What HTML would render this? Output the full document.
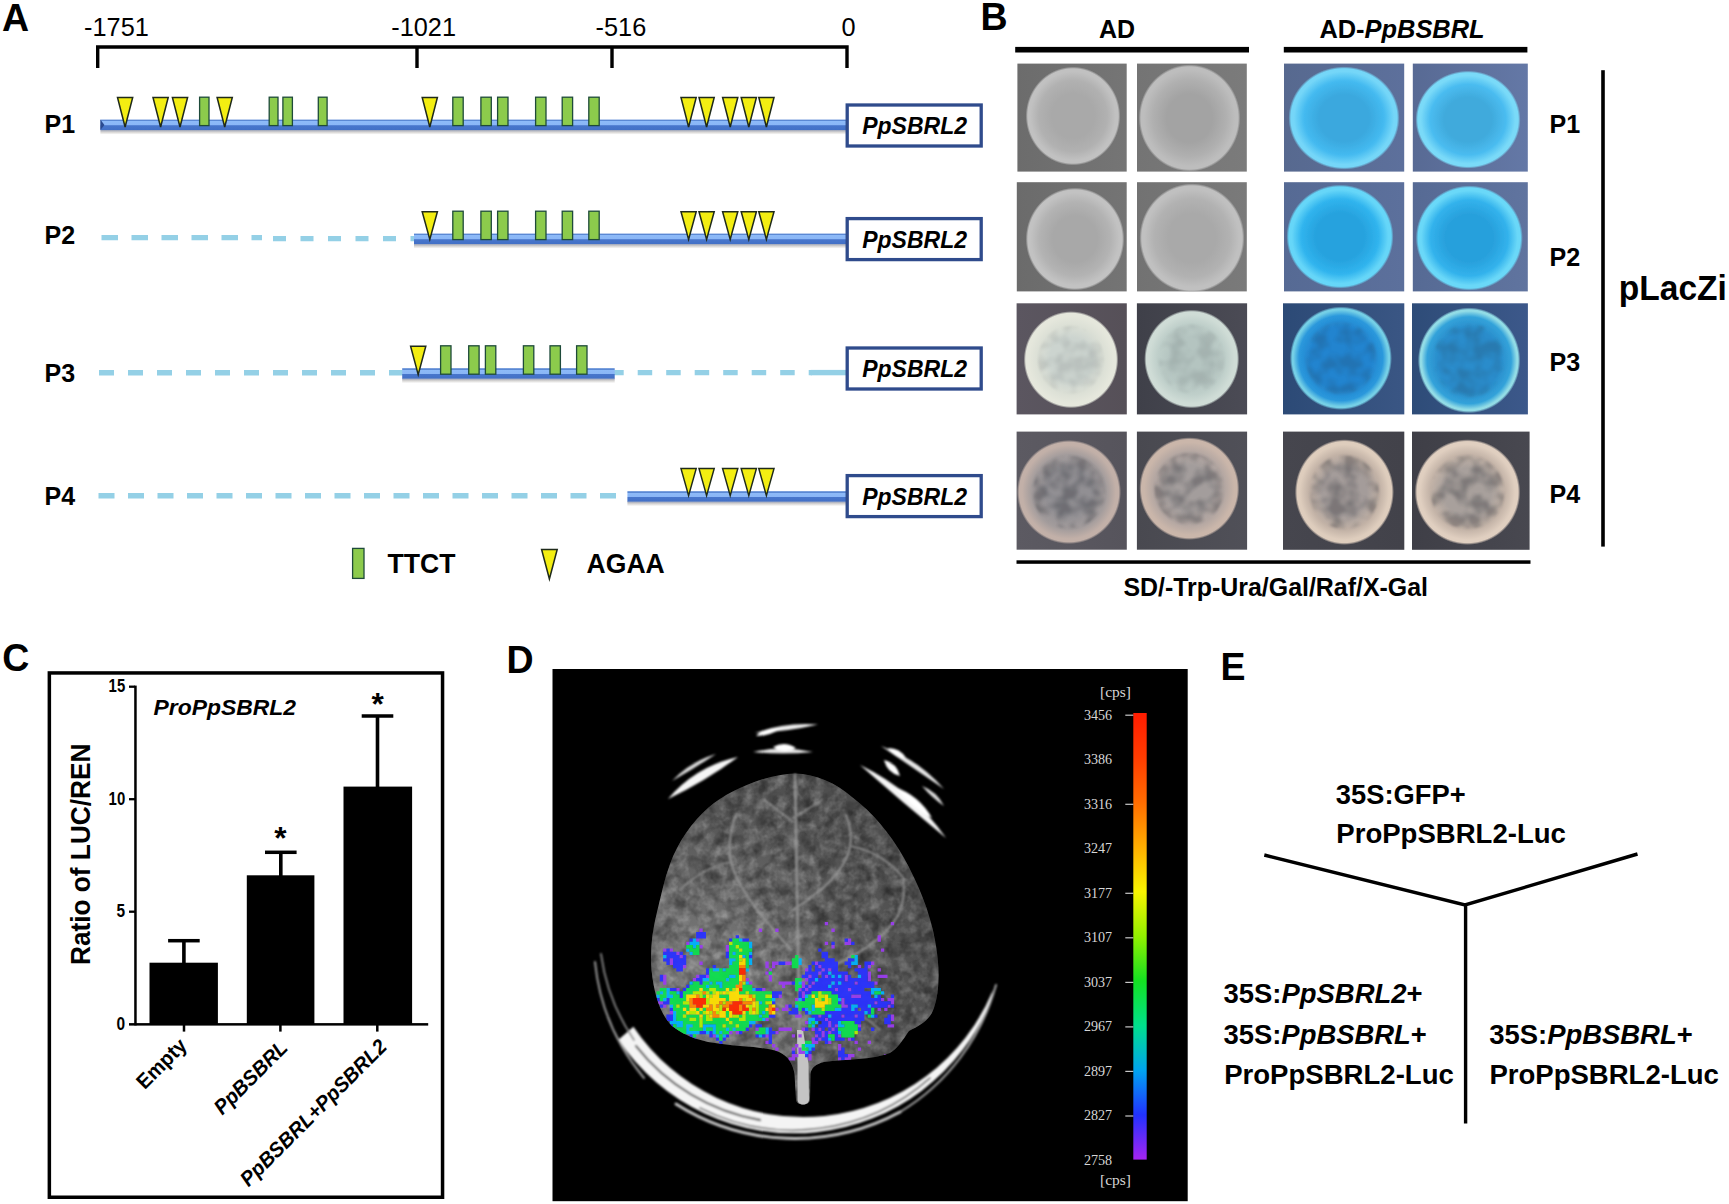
<!DOCTYPE html>
<html><head><meta charset="utf-8"><title>Figure</title>
<style>
html,body{margin:0;padding:0;background:#fff}
svg{display:block}
text{font-family:"Liberation Sans",sans-serif;fill:#000}
.b{font-weight:bold}
.bi{font-weight:bold;font-style:italic}
.se{font-family:"Liberation Serif",serif}
</style></head><body>
<svg width="1729" height="1204" viewBox="0 0 1729 1204">
<defs>
<linearGradient id="bar" x1="0" y1="0" x2="0" y2="1">
<stop offset="0" stop-color="#5a88d4"/><stop offset="0.13" stop-color="#5a88d4"/>
<stop offset="0.16" stop-color="#8dbaf8"/><stop offset="0.52" stop-color="#8ab6f6"/>
<stop offset="0.58" stop-color="#4876cc"/><stop offset="1" stop-color="#4270c6"/>
</linearGradient>
<linearGradient id="shd" x1="0" y1="0" x2="0" y2="1">
<stop offset="0" stop-color="#8f99b4"/><stop offset="0.5" stop-color="#d6d4d2"/><stop offset="1" stop-color="#ffffff"/>
</linearGradient>
</defs>
<rect width="1729" height="1204" fill="#fff"/>
<g id="pA">
<text x="2.0" y="30.6" font-size="39.00" textLength="27.1" lengthAdjust="spacingAndGlyphs" class="b">A</text>
<path d="M97.7 68 V47 H847 V68 M417 47 V68 M612 47 V68" fill="none" stroke="#000" stroke-width="3.4"/>
<text x="84.1" y="35.6" font-size="26.31" textLength="64.7" lengthAdjust="spacingAndGlyphs">-1751</text>
<text x="391.3" y="35.6" font-size="26.31" textLength="64.7" lengthAdjust="spacingAndGlyphs">-1021</text>
<text x="595.6" y="35.6" font-size="26.31" textLength="50.6" lengthAdjust="spacingAndGlyphs">-516</text>
<text x="841.5" y="35.6" font-size="26.31" textLength="14.1" lengthAdjust="spacingAndGlyphs">0</text>
<text x="44.6" y="132.5" font-size="26.21" textLength="30.6" lengthAdjust="spacingAndGlyphs" class="b">P1</text>
<rect x="100.4" y="129.6" width="745.6" height="5" fill="url(#shd)"/><rect x="100.4" y="119.6" width="745.6" height="10.4" fill="url(#bar)"/>
<path d="M100.4 119.6 v10.4 l4 -5z" fill="#2a4a90"/>
<path d="M117.5 97.4 h15.2 L125.1 127.0 Z" fill="#f3ee12" stroke="#1f2a1a" stroke-width="1.5" stroke-linejoin="miter"/>
<path d="M153.0 97.4 h15.2 L160.6 127.0 Z" fill="#f3ee12" stroke="#1f2a1a" stroke-width="1.5" stroke-linejoin="miter"/>
<path d="M172.4 97.4 h15.2 L180 127.0 Z" fill="#f3ee12" stroke="#1f2a1a" stroke-width="1.5" stroke-linejoin="miter"/>
<path d="M217.1 97.4 h15.2 L224.7 127.0 Z" fill="#f3ee12" stroke="#1f2a1a" stroke-width="1.5" stroke-linejoin="miter"/>
<path d="M422.2 97.4 h15.2 L429.8 127.0 Z" fill="#f3ee12" stroke="#1f2a1a" stroke-width="1.5" stroke-linejoin="miter"/>
<path d="M681.0 97.4 h15.2 L688.6 127.0 Z" fill="#f3ee12" stroke="#1f2a1a" stroke-width="1.5" stroke-linejoin="miter"/>
<path d="M699.0 97.4 h15.2 L706.6 127.0 Z" fill="#f3ee12" stroke="#1f2a1a" stroke-width="1.5" stroke-linejoin="miter"/>
<path d="M722.6 97.4 h15.2 L730.2 127.0 Z" fill="#f3ee12" stroke="#1f2a1a" stroke-width="1.5" stroke-linejoin="miter"/>
<path d="M741.1999999999999 97.4 h15.2 L748.8 127.0 Z" fill="#f3ee12" stroke="#1f2a1a" stroke-width="1.5" stroke-linejoin="miter"/>
<path d="M758.8 97.4 h15.2 L766.4 127.0 Z" fill="#f3ee12" stroke="#1f2a1a" stroke-width="1.5" stroke-linejoin="miter"/>
<rect x="199.6" y="97.19999999999999" width="9.4" height="28.4" fill="#8ccb4c" stroke="#1e4a3a" stroke-width="1.3"/>
<rect x="269.20000000000005" y="97.19999999999999" width="8.8" height="28.4" fill="#8ccb4c" stroke="#1e4a3a" stroke-width="1.3"/>
<rect x="282.90000000000003" y="97.19999999999999" width="9.5" height="28.4" fill="#8ccb4c" stroke="#1e4a3a" stroke-width="1.3"/>
<rect x="318.3" y="97.19999999999999" width="8.8" height="28.4" fill="#8ccb4c" stroke="#1e4a3a" stroke-width="1.3"/>
<rect x="452.8" y="97.19999999999999" width="10.4" height="28.4" fill="#8ccb4c" stroke="#1e4a3a" stroke-width="1.3"/>
<rect x="480.90000000000003" y="97.19999999999999" width="10.4" height="28.4" fill="#8ccb4c" stroke="#1e4a3a" stroke-width="1.3"/>
<rect x="497.6" y="97.19999999999999" width="10.4" height="28.4" fill="#8ccb4c" stroke="#1e4a3a" stroke-width="1.3"/>
<rect x="535.6" y="97.19999999999999" width="10.4" height="28.4" fill="#8ccb4c" stroke="#1e4a3a" stroke-width="1.3"/>
<rect x="562.2" y="97.19999999999999" width="10.4" height="28.4" fill="#8ccb4c" stroke="#1e4a3a" stroke-width="1.3"/>
<rect x="588.8000000000001" y="97.19999999999999" width="10.4" height="28.4" fill="#8ccb4c" stroke="#1e4a3a" stroke-width="1.3"/>
<rect x="847.2" y="105.0" width="134" height="41" fill="#fff" stroke="#2f4b8c" stroke-width="3.3"/><text x="862.2" y="134.2" font-size="23.50" textLength="104.8" lengthAdjust="spacingAndGlyphs" class="bi">PpSBRL2</text>
<text x="44.6" y="244.0" font-size="26.21" textLength="30.6" lengthAdjust="spacingAndGlyphs" class="b">P2</text>
<line x1="101.5" y1="237.6" x2="262" y2="237.6" stroke="#94d0e6" stroke-width="5.4" stroke-dasharray="16.5 13.5" stroke-dashoffset="0"/>
<line x1="273" y1="238.6" x2="418" y2="238.6" stroke="#94d0e6" stroke-width="5.4" stroke-dasharray="13 14.5" stroke-dashoffset="0"/>
<rect x="414" y="243.6" width="432" height="5" fill="url(#shd)"/><rect x="414" y="233.6" width="432" height="10.4" fill="url(#bar)"/>
<path d="M422.2 211.8 h15.2 L429.8 239.4 Z" fill="#f3ee12" stroke="#1f2a1a" stroke-width="1.5" stroke-linejoin="miter"/>
<path d="M681.0 211.8 h15.2 L688.6 239.4 Z" fill="#f3ee12" stroke="#1f2a1a" stroke-width="1.5" stroke-linejoin="miter"/>
<path d="M699.0 211.8 h15.2 L706.6 239.4 Z" fill="#f3ee12" stroke="#1f2a1a" stroke-width="1.5" stroke-linejoin="miter"/>
<path d="M722.6 211.8 h15.2 L730.2 239.4 Z" fill="#f3ee12" stroke="#1f2a1a" stroke-width="1.5" stroke-linejoin="miter"/>
<path d="M741.1999999999999 211.8 h15.2 L748.8 239.4 Z" fill="#f3ee12" stroke="#1f2a1a" stroke-width="1.5" stroke-linejoin="miter"/>
<path d="M758.8 211.8 h15.2 L766.4 239.4 Z" fill="#f3ee12" stroke="#1f2a1a" stroke-width="1.5" stroke-linejoin="miter"/>
<rect x="452.8" y="211.2" width="10.4" height="28.4" fill="#8ccb4c" stroke="#1e4a3a" stroke-width="1.3"/>
<rect x="480.90000000000003" y="211.2" width="10.4" height="28.4" fill="#8ccb4c" stroke="#1e4a3a" stroke-width="1.3"/>
<rect x="497.6" y="211.2" width="10.4" height="28.4" fill="#8ccb4c" stroke="#1e4a3a" stroke-width="1.3"/>
<rect x="535.6" y="211.2" width="10.4" height="28.4" fill="#8ccb4c" stroke="#1e4a3a" stroke-width="1.3"/>
<rect x="562.2" y="211.2" width="10.4" height="28.4" fill="#8ccb4c" stroke="#1e4a3a" stroke-width="1.3"/>
<rect x="588.8000000000001" y="211.2" width="10.4" height="28.4" fill="#8ccb4c" stroke="#1e4a3a" stroke-width="1.3"/>
<rect x="847.2" y="218.6" width="134" height="41" fill="#fff" stroke="#2f4b8c" stroke-width="3.3"/><text x="862.2" y="247.8" font-size="23.50" textLength="104.8" lengthAdjust="spacingAndGlyphs" class="bi">PpSBRL2</text>
<text x="44.6" y="381.5" font-size="26.21" textLength="30.6" lengthAdjust="spacingAndGlyphs" class="b">P3</text>
<line x1="99" y1="372.8" x2="403" y2="372.8" stroke="#94d0e6" stroke-width="5.4" stroke-dasharray="15 14" stroke-dashoffset="0"/>
<line x1="614" y1="372.6" x2="812" y2="372.6" stroke="#94d0e6" stroke-width="5.4" stroke-dasharray="14.5 14" stroke-dashoffset="4.8"/>
<rect x="810.7" y="369.9" width="37" height="5.4" fill="#94d0e6"/>
<rect x="402.2" y="378.2" width="212.50000000000006" height="5" fill="url(#shd)"/><rect x="402.2" y="368.2" width="212.50000000000006" height="10.4" fill="url(#bar)"/>
<path d="M410.59999999999997 346.2 h15.2 L418.2 374.6 Z" fill="#f3ee12" stroke="#1f2a1a" stroke-width="1.5" stroke-linejoin="miter"/>
<rect x="440.6" y="345.8" width="10.4" height="28.4" fill="#8ccb4c" stroke="#1e4a3a" stroke-width="1.3"/>
<rect x="468.70000000000005" y="345.8" width="10.4" height="28.4" fill="#8ccb4c" stroke="#1e4a3a" stroke-width="1.3"/>
<rect x="485.40000000000003" y="345.8" width="10.4" height="28.4" fill="#8ccb4c" stroke="#1e4a3a" stroke-width="1.3"/>
<rect x="523.4" y="345.8" width="10.4" height="28.4" fill="#8ccb4c" stroke="#1e4a3a" stroke-width="1.3"/>
<rect x="550.0" y="345.8" width="10.4" height="28.4" fill="#8ccb4c" stroke="#1e4a3a" stroke-width="1.3"/>
<rect x="576.6" y="345.8" width="10.4" height="28.4" fill="#8ccb4c" stroke="#1e4a3a" stroke-width="1.3"/>
<rect x="847.2" y="348.0" width="134" height="41" fill="#fff" stroke="#2f4b8c" stroke-width="3.3"/><text x="862.2" y="377.2" font-size="23.50" textLength="104.8" lengthAdjust="spacingAndGlyphs" class="bi">PpSBRL2</text>
<text x="44.6" y="505.0" font-size="26.21" textLength="30.6" lengthAdjust="spacingAndGlyphs" class="b">P4</text>
<line x1="98.5" y1="495.8" x2="628" y2="495.8" stroke="#94d0e6" stroke-width="5.4" stroke-dasharray="16 13.5" stroke-dashoffset="0"/>
<rect x="627.4" y="501.2" width="218.60000000000002" height="5" fill="url(#shd)"/><rect x="627.4" y="491.2" width="218.60000000000002" height="10.4" fill="url(#bar)"/>
<path d="M681.0 468.59999999999997 h15.2 L688.6 495.59999999999997 Z" fill="#f3ee12" stroke="#1f2a1a" stroke-width="1.5" stroke-linejoin="miter"/>
<path d="M699.0 468.59999999999997 h15.2 L706.6 495.59999999999997 Z" fill="#f3ee12" stroke="#1f2a1a" stroke-width="1.5" stroke-linejoin="miter"/>
<path d="M722.6 468.59999999999997 h15.2 L730.2 495.59999999999997 Z" fill="#f3ee12" stroke="#1f2a1a" stroke-width="1.5" stroke-linejoin="miter"/>
<path d="M741.1999999999999 468.59999999999997 h15.2 L748.8 495.59999999999997 Z" fill="#f3ee12" stroke="#1f2a1a" stroke-width="1.5" stroke-linejoin="miter"/>
<path d="M758.8 468.59999999999997 h15.2 L766.4 495.59999999999997 Z" fill="#f3ee12" stroke="#1f2a1a" stroke-width="1.5" stroke-linejoin="miter"/>
<rect x="847.2" y="475.6" width="134" height="41" fill="#fff" stroke="#2f4b8c" stroke-width="3.3"/><text x="862.2" y="504.8" font-size="23.50" textLength="104.8" lengthAdjust="spacingAndGlyphs" class="bi">PpSBRL2</text>
<rect x="352.6" y="548.4" width="11.4" height="30" fill="#8ccb4c" stroke="#1e4a3a" stroke-width="1.3"/>
<text x="387.5" y="572.6" font-size="27.56" textLength="68.0" lengthAdjust="spacingAndGlyphs" class="b">TTCT</text>
<path d="M541.6 549.4 h15.6 L549.4 579 Z" fill="#f3ee12" stroke="#1f2a1a" stroke-width="1.5"/>
<text x="586.6" y="572.6" font-size="27.56" textLength="78.2" lengthAdjust="spacingAndGlyphs" class="b">AGAA</text>
</g>
<defs><linearGradient id="tb0"><stop offset="0" stop-color="#6c6c6c"/><stop offset="1" stop-color="#757575"/></linearGradient><radialGradient id="tc0"><stop offset="0" stop-color="#a9a9a9"/><stop offset="0.45" stop-color="#a9a9a9"/><stop offset="0.72" stop-color="#b1b1b1"/><stop offset="0.9" stop-color="#c1c1c1"/><stop offset="0.955" stop-color="#c1c1c1"/><stop offset="1" stop-color="#c1c1c1" stop-opacity="0"/></radialGradient><linearGradient id="tb1"><stop offset="0" stop-color="#747474"/><stop offset="1" stop-color="#7b7b7b"/></linearGradient><radialGradient id="tc1"><stop offset="0" stop-color="#a3a3a3"/><stop offset="0.45" stop-color="#a3a3a3"/><stop offset="0.72" stop-color="#b0b0b0"/><stop offset="0.9" stop-color="#bdbdbd"/><stop offset="0.955" stop-color="#bdbdbd"/><stop offset="1" stop-color="#bdbdbd" stop-opacity="0"/></radialGradient><linearGradient id="tb2"><stop offset="0" stop-color="#6b6b6b"/><stop offset="1" stop-color="#747474"/></linearGradient><radialGradient id="tc2"><stop offset="0" stop-color="#a8a8a8"/><stop offset="0.45" stop-color="#a8a8a8"/><stop offset="0.72" stop-color="#b3b3b3"/><stop offset="0.9" stop-color="#c2c2c2"/><stop offset="0.955" stop-color="#c2c2c2"/><stop offset="1" stop-color="#c2c2c2" stop-opacity="0"/></radialGradient><linearGradient id="tb3"><stop offset="0" stop-color="#727272"/><stop offset="1" stop-color="#7a7a7a"/></linearGradient><radialGradient id="tc3"><stop offset="0" stop-color="#a9a9a9"/><stop offset="0.45" stop-color="#a9a9a9"/><stop offset="0.72" stop-color="#b2b2b2"/><stop offset="0.9" stop-color="#c0c0c0"/><stop offset="0.955" stop-color="#c0c0c0"/><stop offset="1" stop-color="#c0c0c0" stop-opacity="0"/></radialGradient><linearGradient id="tb4"><stop offset="0" stop-color="#57698f"/><stop offset="1" stop-color="#5d709c"/></linearGradient><radialGradient id="tc4"><stop offset="0" stop-color="#3aa8de"/><stop offset="0.45" stop-color="#3aa8de"/><stop offset="0.72" stop-color="#44baf0"/><stop offset="0.9" stop-color="#74d6f8"/><stop offset="0.955" stop-color="#74d6f8"/><stop offset="1" stop-color="#74d6f8" stop-opacity="0"/></radialGradient><linearGradient id="tb5"><stop offset="0" stop-color="#586a94"/><stop offset="1" stop-color="#6478a6"/></linearGradient><radialGradient id="tc5"><stop offset="0" stop-color="#40aadc"/><stop offset="0.45" stop-color="#40aadc"/><stop offset="0.72" stop-color="#4abcf0"/><stop offset="0.9" stop-color="#7adaf8"/><stop offset="0.955" stop-color="#7adaf8"/><stop offset="1" stop-color="#7adaf8" stop-opacity="0"/></radialGradient><linearGradient id="tb6"><stop offset="0" stop-color="#566a94"/><stop offset="1" stop-color="#5c709c"/></linearGradient><radialGradient id="tc6"><stop offset="0" stop-color="#27a2de"/><stop offset="0.45" stop-color="#27a2de"/><stop offset="0.72" stop-color="#30b4ee"/><stop offset="0.9" stop-color="#66d6f8"/><stop offset="0.955" stop-color="#66d6f8"/><stop offset="1" stop-color="#66d6f8" stop-opacity="0"/></radialGradient><linearGradient id="tb7"><stop offset="0" stop-color="#566a94"/><stop offset="1" stop-color="#60749f"/></linearGradient><radialGradient id="tc7"><stop offset="0" stop-color="#28a0dc"/><stop offset="0.45" stop-color="#28a0dc"/><stop offset="0.72" stop-color="#32b2ec"/><stop offset="0.9" stop-color="#6ad8f8"/><stop offset="0.955" stop-color="#6ad8f8"/><stop offset="1" stop-color="#6ad8f8" stop-opacity="0"/></radialGradient><linearGradient id="tb8"><stop offset="0" stop-color="#5b5660"/><stop offset="1" stop-color="#565058"/></linearGradient><radialGradient id="tc8"><stop offset="0" stop-color="#ccd4cf"/><stop offset="0.45" stop-color="#ccd4cf"/><stop offset="0.72" stop-color="#dce0d6"/><stop offset="0.9" stop-color="#e5e7dc"/><stop offset="0.955" stop-color="#e5e7dc"/><stop offset="1" stop-color="#e5e7dc" stop-opacity="0"/></radialGradient><linearGradient id="tb9"><stop offset="0" stop-color="#3f4049"/><stop offset="1" stop-color="#4b4b55"/></linearGradient><radialGradient id="tc9"><stop offset="0" stop-color="#b4c4c0"/><stop offset="0.45" stop-color="#b4c4c0"/><stop offset="0.72" stop-color="#bfcfca"/><stop offset="0.9" stop-color="#cfdcd6"/><stop offset="0.955" stop-color="#cfdcd6"/><stop offset="1" stop-color="#cfdcd6" stop-opacity="0"/></radialGradient><linearGradient id="tb10"><stop offset="0" stop-color="#2c4a76"/><stop offset="1" stop-color="#3a5684"/></linearGradient><radialGradient id="tc10"><stop offset="0" stop-color="#2384cf"/><stop offset="0.6" stop-color="#2384cf"/><stop offset="0.82" stop-color="#2a98dc"/><stop offset="0.93" stop-color="#74cfe6"/><stop offset="0.955" stop-color="#74cfe6"/><stop offset="1" stop-color="#74cfe6" stop-opacity="0"/></radialGradient><linearGradient id="tb11"><stop offset="0" stop-color="#2e4c78"/><stop offset="1" stop-color="#3c588a"/></linearGradient><radialGradient id="tc11"><stop offset="0" stop-color="#2a8ccb"/><stop offset="0.6" stop-color="#2a8ccb"/><stop offset="0.82" stop-color="#32a2da"/><stop offset="0.93" stop-color="#92dce6"/><stop offset="0.955" stop-color="#92dce6"/><stop offset="1" stop-color="#92dce6" stop-opacity="0"/></radialGradient><linearGradient id="tb12"><stop offset="0" stop-color="#5c5a62"/><stop offset="1" stop-color="#56545c"/></linearGradient><radialGradient id="tc12"><stop offset="0" stop-color="#918f93"/><stop offset="0.45" stop-color="#918f93"/><stop offset="0.72" stop-color="#a39c9c"/><stop offset="0.9" stop-color="#c2b0a8"/><stop offset="0.955" stop-color="#c2b0a8"/><stop offset="1" stop-color="#c2b0a8" stop-opacity="0"/></radialGradient><linearGradient id="tb13"><stop offset="0" stop-color="#494950"/><stop offset="1" stop-color="#505058"/></linearGradient><radialGradient id="tc13"><stop offset="0" stop-color="#a39d9c"/><stop offset="0.45" stop-color="#a39d9c"/><stop offset="0.72" stop-color="#b4a7a2"/><stop offset="0.9" stop-color="#cab6aa"/><stop offset="0.955" stop-color="#cab6aa"/><stop offset="1" stop-color="#cab6aa" stop-opacity="0"/></radialGradient><linearGradient id="tb14"><stop offset="0" stop-color="#46464e"/><stop offset="1" stop-color="#42424a"/></linearGradient><radialGradient id="tc14"><stop offset="0" stop-color="#a49c9a"/><stop offset="0.45" stop-color="#a49c9a"/><stop offset="0.72" stop-color="#c2b2a6"/><stop offset="0.9" stop-color="#decdbd"/><stop offset="0.955" stop-color="#decdbd"/><stop offset="1" stop-color="#decdbd" stop-opacity="0"/></radialGradient><linearGradient id="tb15"><stop offset="0" stop-color="#3f3f47"/><stop offset="1" stop-color="#484850"/></linearGradient><radialGradient id="tc15"><stop offset="0" stop-color="#a8a09c"/><stop offset="0.45" stop-color="#a8a09c"/><stop offset="0.72" stop-color="#c4b4a8"/><stop offset="0.9" stop-color="#e0cfc0"/><stop offset="0.955" stop-color="#e0cfc0"/><stop offset="1" stop-color="#e0cfc0" stop-opacity="0"/></radialGradient><filter id="tbl" x="-5%" y="-5%" width="110%" height="110%"><feGaussianBlur stdDeviation="0.7"/></filter><filter id="mot" x="-10%" y="-10%" width="120%" height="120%"><feTurbulence type="fractalNoise" baseFrequency="0.07" numOctaves="2" seed="3" result="n"/><feColorMatrix in="n" type="matrix" values="0 0 0 0 0  0 0 0 0 0  0 0 0 0 0  0 3 0 0 -1.1" result="m"/><feComposite operator="in" in="SourceGraphic" in2="m"/><feGaussianBlur stdDeviation="1.2"/></filter></defs>
<g id="pB">
<text x="980.6" y="30.0" font-size="39.00" textLength="27.1" lengthAdjust="spacingAndGlyphs" class="b">B</text>
<text x="1098.9" y="37.6" font-size="26.00" textLength="36.1" lengthAdjust="spacingAndGlyphs" class="b">AD</text>
<text x="1319.4" y="37.8" font-size="26.00" textLength="165.2" lengthAdjust="spacingAndGlyphs"><tspan class="b">AD-</tspan><tspan class="bi">PpBSBRL</tspan></text>
<rect x="1015.2" y="46.9" width="233.8" height="5.6" fill="#000"/>
<rect x="1283.8" y="46.9" width="243.6" height="5.6" fill="#000"/>
<rect x="1017.4" y="63.6" width="109.3" height="108.0" fill="url(#tb0)"/>
<ellipse cx="1073" cy="116" rx="47.4" ry="49.4" fill="url(#tc0)" filter="url(#tbl)"/>
<rect x="1137" y="63.6" width="109.8" height="108.0" fill="url(#tb1)"/>
<ellipse cx="1189.5" cy="118" rx="50.9" ry="53.6" fill="url(#tc1)" filter="url(#tbl)"/>
<rect x="1016.8" y="182.2" width="109.9" height="109.2" fill="url(#tb2)"/>
<ellipse cx="1075" cy="239" rx="49.4" ry="51.4" fill="url(#tc2)" filter="url(#tbl)"/>
<rect x="1137" y="182.2" width="109.8" height="109.2" fill="url(#tb3)"/>
<ellipse cx="1192" cy="238" rx="52.6" ry="54.6" fill="url(#tc3)" filter="url(#tbl)"/>
<rect x="1284" y="63.6" width="120.2" height="108.0" fill="url(#tb4)"/>
<ellipse cx="1344" cy="118" rx="55.6" ry="51.6" fill="url(#tc4)" filter="url(#tbl)"/>
<rect x="1412.8" y="63.6" width="115.0" height="108.0" fill="url(#tb5)"/>
<ellipse cx="1468" cy="119.6" rx="52.6" ry="49.0" fill="url(#tc5)" filter="url(#tbl)"/>
<rect x="1284" y="182.2" width="120.2" height="109.2" fill="url(#tb6)"/>
<ellipse cx="1340" cy="236.6" rx="53.6" ry="52.0" fill="url(#tc6)" filter="url(#tbl)"/>
<rect x="1412.8" y="182.2" width="115.0" height="109.2" fill="url(#tb7)"/>
<ellipse cx="1469.3" cy="238" rx="53.6" ry="52.6" fill="url(#tc7)" filter="url(#tbl)"/>
<rect x="1016.6" y="303.3" width="110.2" height="111.1" fill="url(#tb8)"/>
<ellipse cx="1071" cy="359.7" rx="47.4" ry="48.6" fill="url(#tc8)" filter="url(#tbl)"/>
<ellipse cx="1071" cy="359.7" rx="33.0" ry="33.8" fill="#20242c" filter="url(#mot)" opacity="0.1"/>
<rect x="1136.9" y="303.3" width="110.2" height="111.1" fill="url(#tb9)"/>
<ellipse cx="1191.7" cy="359" rx="47.6" ry="49.4" fill="url(#tc9)" filter="url(#tbl)"/>
<ellipse cx="1191.7" cy="359" rx="33.1" ry="34.4" fill="#20242c" filter="url(#mot)" opacity="0.1"/>
<rect x="1283" y="303.3" width="121.3" height="111.1" fill="url(#tb10)"/>
<ellipse cx="1340.9" cy="358.2" rx="51.1" ry="51.800000000000004" fill="url(#tc10)" filter="url(#tbl)"/>
<ellipse cx="1340.9" cy="358.2" rx="35.6" ry="36.1" fill="#20242c" filter="url(#mot)" opacity="0.16"/>
<rect x="1412" y="303.3" width="115.9" height="111.1" fill="url(#tb11)"/>
<ellipse cx="1469.1" cy="360.3" rx="51.300000000000004" ry="52.9" fill="url(#tc11)" filter="url(#tbl)"/>
<ellipse cx="1469.1" cy="360.3" rx="35.8" ry="36.9" fill="#20242c" filter="url(#mot)" opacity="0.16"/>
<rect x="1016.6" y="431.6" width="110.2" height="118.1" fill="url(#tb12)"/>
<ellipse cx="1069" cy="492" rx="52.1" ry="52.1" fill="url(#tc12)" filter="url(#tbl)"/>
<ellipse cx="1069" cy="492" rx="36.4" ry="36.4" fill="#20242c" filter="url(#mot)" opacity="0.3"/>
<rect x="1136.9" y="431.6" width="110.2" height="118.1" fill="url(#tb13)"/>
<ellipse cx="1189.3" cy="488.6" rx="50.1" ry="51.4" fill="url(#tc13)" filter="url(#tbl)"/>
<ellipse cx="1189.3" cy="488.6" rx="34.9" ry="35.9" fill="#20242c" filter="url(#mot)" opacity="0.3"/>
<rect x="1283" y="431.6" width="121.3" height="118.2" fill="url(#tb14)"/>
<ellipse cx="1344.4" cy="492.1" rx="49.6" ry="52.9" fill="url(#tc14)" filter="url(#tbl)"/>
<ellipse cx="1344.4" cy="492.1" rx="34.6" ry="36.9" fill="#20242c" filter="url(#mot)" opacity="0.3"/>
<rect x="1412" y="431.6" width="117.6" height="118.2" fill="url(#tb15)"/>
<ellipse cx="1467.5" cy="492.1" rx="52.9" ry="52.9" fill="url(#tc15)" filter="url(#tbl)"/>
<ellipse cx="1467.5" cy="492.1" rx="36.9" ry="36.9" fill="#20242c" filter="url(#mot)" opacity="0.3"/>
<text x="1549.6" y="133.2" font-size="26.21" textLength="30.7" lengthAdjust="spacingAndGlyphs" class="b">P1</text>
<text x="1549.6" y="265.6" font-size="26.21" textLength="30.7" lengthAdjust="spacingAndGlyphs" class="b">P2</text>
<text x="1549.6" y="370.8" font-size="26.21" textLength="30.7" lengthAdjust="spacingAndGlyphs" class="b">P3</text>
<text x="1549.6" y="502.8" font-size="26.21" textLength="30.7" lengthAdjust="spacingAndGlyphs" class="b">P4</text>
<rect x="1601.2" y="70.2" width="3.6" height="476.4" fill="#000"/>
<text x="1618.8" y="299.8" font-size="35.36" textLength="108.0" lengthAdjust="spacingAndGlyphs" class="b">pLacZi</text>
<rect x="1016.5" y="560.3" width="514" height="3.5" fill="#000"/>
<text x="1123.4" y="595.6" font-size="26.00" textLength="304.6" lengthAdjust="spacingAndGlyphs" class="b">SD/-Trp-Ura/Gal/Raf/X-Gal</text>
</g>
<g id="pC">
<text x="2.2" y="671.4" font-size="39.00" textLength="27.1" lengthAdjust="spacingAndGlyphs" class="b">C</text>
<rect x="49.35" y="672.95" width="393.2" height="524.3" fill="#fff" stroke="#000" stroke-width="3.5"/>
<rect x="134.2" y="685.6" width="2.5" height="339.8" fill="#000"/>
<rect x="129" y="1023.1" width="299.2" height="2.5" fill="#000"/>
<rect x="129" y="685.5500000000001" width="6" height="2.3" fill="#000"/>
<rect x="129" y="798.0500000000001" width="6" height="2.3" fill="#000"/>
<rect x="129" y="910.5500000000001" width="6" height="2.3" fill="#000"/>
<rect x="182.75" y="1024" width="2.5" height="7.6" fill="#000"/>
<rect x="279.15" y="1024" width="2.5" height="7.6" fill="#000"/>
<rect x="376.05" y="1024" width="2.5" height="7.6" fill="#000"/>
<rect x="149.5" y="962.7" width="68.4" height="61.3" fill="#000"/>
<rect x="246.8" y="875.3" width="67.6" height="148.7" fill="#000"/>
<rect x="343.5" y="786.6" width="68.6" height="237.4" fill="#000"/>
<rect x="182.1" y="940.7" width="3.6" height="22.3" fill="#000"/>
<rect x="168.1" y="938.95" width="31.6" height="3.5" fill="#000"/>
<rect x="279.0" y="852.3" width="3.6" height="23.7" fill="#000"/>
<rect x="265.0" y="850.55" width="31.6" height="3.5" fill="#000"/>
<rect x="375.7" y="716" width="3.6" height="71" fill="#000"/>
<rect x="361.7" y="714.25" width="31.6" height="3.5" fill="#000"/>
<text x="274.3" y="848.6" font-size="31.50" textLength="12.3" lengthAdjust="spacingAndGlyphs" class="b">*</text>
<text x="371.4" y="714.8" font-size="31.50" textLength="12.3" lengthAdjust="spacingAndGlyphs" class="b">*</text>
<text x="108.6" y="692.2" font-size="18.10" textLength="16.6" lengthAdjust="spacingAndGlyphs" class="b">15</text>
<text x="108.6" y="804.7" font-size="18.10" textLength="16.6" lengthAdjust="spacingAndGlyphs" class="b">10</text>
<text x="116.6" y="917.4" font-size="18.10" textLength="8.6" lengthAdjust="spacingAndGlyphs" class="b">5</text>
<text x="116.6" y="1030.0" font-size="18.10" textLength="8.6" lengthAdjust="spacingAndGlyphs" class="b">0</text>
<text x="153.5" y="714.8" font-size="22.88" textLength="142.5" lengthAdjust="spacingAndGlyphs" class="bi">ProPpSBRL2</text>
<text x="0.0" y="0.0" font-size="28.08" textLength="221.4" lengthAdjust="spacingAndGlyphs" transform="translate(90.2,965) rotate(-90)" class="b">Ratio of LUC/REN</text>
<text x="-61.1" y="0.0" font-size="20.80" textLength="61.1" lengthAdjust="spacingAndGlyphs" transform="translate(188,1047) rotate(-45)" class="b">Empty</text>
<text x="-94.4" y="0.0" font-size="20.80" textLength="94.4" lengthAdjust="spacingAndGlyphs" transform="translate(289,1049) rotate(-45)" class="bi">PpBSBRL</text>
<text x="-197.2" y="0.0" font-size="20.80" textLength="197.2" lengthAdjust="spacingAndGlyphs" transform="translate(388,1048) rotate(-45)" class="bi">PpBSBRL+PpSBRL2</text>
</g>
<g id="pD">
<text x="506.4" y="672.8" font-size="39.00" textLength="27.1" lengthAdjust="spacingAndGlyphs" class="b">D</text>
<rect x="552.5" y="669" width="635.2" height="532.2" fill="#000"/>
<defs>
<radialGradient id="lf" gradientUnits="userSpaceOnUse" cx="700" cy="990" r="230">
<stop offset="0" stop-color="#808080"/><stop offset="0.35" stop-color="#6e6e6e"/><stop offset="0.7" stop-color="#595959"/><stop offset="1" stop-color="#4e4e4e"/></radialGradient>
<filter id="bl1" x="-10%" y="-10%" width="120%" height="120%"><feGaussianBlur stdDeviation="1.1"/></filter>
<filter id="bl2" x="-10%" y="-10%" width="120%" height="120%"><feGaussianBlur stdDeviation="0.7"/></filter>
<filter id="tex" x="0" y="0" width="100%" height="100%"><feTurbulence type="fractalNoise" baseFrequency="0.09" numOctaves="3" seed="4" result="n"/><feColorMatrix in="n" type="matrix" values="0 0 0 0 1  0 0 0 0 1  0 0 0 0 1  1.6 0 0 0 -0.62"/><feComposite operator="in" in2="SourceGraphic"/></filter>
<filter id="tex2" x="0" y="0" width="100%" height="100%"><feTurbulence type="fractalNoise" baseFrequency="0.07" numOctaves="3" seed="11" result="n"/><feColorMatrix in="n" type="matrix" values="0 0 0 0 0  0 0 0 0 0  0 0 0 0 0  0 1.8 0 0 -0.7"/><feComposite operator="in" in2="SourceGraphic"/></filter>
<linearGradient id="cb" x1="0" y1="0" x2="0" y2="1">
<stop offset="0" stop-color="#ff1c00"/><stop offset="0.1" stop-color="#ff3c00"/><stop offset="0.2" stop-color="#ff6c00"/><stop offset="0.3" stop-color="#ffae00"/>
<stop offset="0.4" stop-color="#f8f400"/><stop offset="0.5" stop-color="#92f000"/><stop offset="0.6" stop-color="#14e022"/><stop offset="0.7" stop-color="#00e08c"/>
<stop offset="0.8" stop-color="#00a4f0"/><stop offset="0.9" stop-color="#2232ff"/><stop offset="1" stop-color="#a624f0"/></linearGradient>
</defs>
<path d="M795 773.5 C816 774 836 783 852 797 C872 812 890 833 904 858 C918 883 930 912 935 940 C940 966 940 990 934 1008 C930 1020 921 1025 909 1031 C903 1040 897 1049 890 1053 C872 1060 846 1059 824 1062 C816 1064 811 1068 810.5 1074 L810 1100 C809 1106 797 1106 796 1100 L794.5 1074 C793 1064 788 1056 779 1052 C762 1046 740 1047 722 1044 C703 1042 686 1037 672 1026 C660 1014 654 994 651.5 970 C650 950 652 932 657 912 C661 896 664 880 670 864 C678 842 692 822 708 808 C730 789 768 774 795 773.5Z" fill="url(#lf)"/>
<path d="M795 773.5 C816 774 836 783 852 797 C872 812 890 833 904 858 C918 883 930 912 935 940 C940 966 940 990 934 1008 C930 1020 921 1025 909 1031 C903 1040 897 1049 890 1053 C872 1060 846 1059 824 1062 C816 1064 811 1068 810.5 1074 L810 1100 C809 1106 797 1106 796 1100 L794.5 1074 C793 1064 788 1056 779 1052 C762 1046 740 1047 722 1044 C703 1042 686 1037 672 1026 C660 1014 654 994 651.5 970 C650 950 652 932 657 912 C661 896 664 880 670 864 C678 842 692 822 708 808 C730 789 768 774 795 773.5Z" fill="#fff" filter="url(#tex)" opacity="0.35"/>
<path d="M795 773.5 C816 774 836 783 852 797 C872 812 890 833 904 858 C918 883 930 912 935 940 C940 966 940 990 934 1008 C930 1020 921 1025 909 1031 C903 1040 897 1049 890 1053 C872 1060 846 1059 824 1062 C816 1064 811 1068 810.5 1074 L810 1100 C809 1106 797 1106 796 1100 L794.5 1074 C793 1064 788 1056 779 1052 C762 1046 740 1047 722 1044 C703 1042 686 1037 672 1026 C660 1014 654 994 651.5 970 C650 950 652 932 657 912 C661 896 664 880 670 864 C678 842 692 822 708 808 C730 789 768 774 795 773.5Z" fill="#000" filter="url(#tex2)" opacity="0.5"/>
<g fill="none" stroke="#9c9c9c" stroke-linecap="round" filter="url(#bl1)" opacity="0.75"><path d="M795 775 C797 840 798 960 800 1062" stroke-width="3"/><path d="M793 910 C815 895 845 875 850 846 C852 835 850 825 846 815" stroke-width="2.2"/><path d="M791 950 C770 925 740 895 731 862 C728 845 730 830 736 815" stroke-width="2.2"/><path d="M796 985 C830 965 880 950 898 915 C905 900 905 890 903 880" stroke-width="2.2"/><path d="M799 1020 C770 990 720 985 690 960" stroke-width="2.2"/><path d="M793 818 C803 812 813 806 822 800" stroke-width="2"/><path d="M793 822 C783 814 773 806 764 800" stroke-width="1.8"/><path d="M850 846 C870 850 890 860 905 880" stroke-width="1.8"/><path d="M731 862 C712 866 695 875 680 890" stroke-width="1.6"/><path d="M797 1000 C830 1000 860 1010 880 1030" stroke-width="1.6"/></g>
<path d="M797 1030 L797.5 1062 L797.5 1100 C798 1106 808.5 1106 809 1100 L808.5 1064 L803 1030Z" fill="#c4c4c4" filter="url(#bl2)"/>
<clipPath id="lfc"><path d="M795 773.5 C816 774 836 783 852 797 C872 812 890 833 904 858 C918 883 930 912 935 940 C940 966 940 990 934 1008 C930 1020 921 1025 909 1031 C903 1040 897 1049 890 1053 C872 1060 846 1059 824 1062 C816 1064 811 1068 810.5 1074 L810 1100 C809 1106 797 1106 796 1100 L794.5 1074 C793 1064 788 1056 779 1052 C762 1046 740 1047 722 1044 C703 1042 686 1037 672 1026 C660 1014 654 994 651.5 970 C650 950 652 932 657 912 C661 896 664 880 670 864 C678 842 692 822 708 808 C730 789 768 774 795 773.5Z"/></clipPath>
<g opacity="0.95" clip-path="url(#lfc)"><g filter="url(#bl2)"><path d="M824.8 922.0h3.3v3.3h-3.3zM890.8 922.0h3.3v3.3h-3.3zM699.4 928.6h3.3v3.3h-3.3zM758.8 928.6h3.3v3.3h-3.3zM775.3 928.6h3.3v3.3h-3.3zM831.4 928.6h3.3v3.3h-3.3zM877.6 935.2h3.3v3.3h-3.3zM696.1 938.5h3.3v3.3h-3.3zM847.9 938.5h3.3v3.3h-3.3zM877.6 938.5h3.3v3.3h-3.3zM686.2 941.8h3.3v3.3h-3.3zM824.8 941.8h3.3v3.3h-3.3zM844.6 941.8h6.6v3.3h-6.6zM699.4 945.1h3.3v3.3h-3.3zM725.8 945.1h3.3v3.3h-3.3zM831.4 945.1h3.3v3.3h-3.3zM663.1 948.4h3.3v3.3h-3.3zM669.7 948.4h3.3v3.3h-3.3zM725.8 948.4h3.3v3.3h-3.3zM880.9 948.4h3.3v3.3h-3.3zM676.3 951.7h3.3v3.3h-3.3zM679.6 955.0h3.3v3.3h-3.3zM669.7 958.3h3.3v3.3h-3.3zM669.7 961.6h3.3v3.3h-3.3zM699.4 961.6h3.3v3.3h-3.3zM765.4 961.6h3.3v3.3h-3.3zM772.0 961.6h6.6v3.3h-6.6zM785.2 961.6h6.6v3.3h-6.6zM814.9 961.6h3.3v3.3h-3.3zM871.0 961.6h3.3v3.3h-3.3zM682.9 964.9h3.3v3.3h-3.3zM765.4 964.9h3.3v3.3h-3.3zM772.0 964.9h3.3v3.3h-3.3zM818.2 964.9h3.3v3.3h-3.3zM857.8 964.9h3.3v3.3h-3.3zM867.7 964.9h3.3v3.3h-3.3zM768.7 968.2h3.3v3.3h-3.3zM805.0 968.2h3.3v3.3h-3.3zM821.5 968.2h3.3v3.3h-3.3zM828.1 968.2h3.3v3.3h-3.3zM877.6 968.2h3.3v3.3h-3.3zM765.4 971.5h3.3v3.3h-3.3zM818.2 971.5h3.3v3.3h-3.3zM867.7 971.5h3.3v3.3h-3.3zM663.1 974.8h3.3v3.3h-3.3zM696.1 974.8h3.3v3.3h-3.3zM706.0 974.8h3.3v3.3h-3.3zM768.7 974.8h3.3v3.3h-3.3zM808.3 974.8h3.3v3.3h-3.3zM824.8 974.8h3.3v3.3h-3.3zM844.6 974.8h3.3v3.3h-3.3zM867.7 974.8h3.3v3.3h-3.3zM877.6 974.8h9.9v3.3h-9.9zM663.1 978.1h3.3v3.3h-3.3zM692.8 978.1h3.3v3.3h-3.3zM745.6 978.1h3.3v3.3h-3.3zM768.7 978.1h3.3v3.3h-3.3zM805.0 978.1h3.3v3.3h-3.3zM844.6 978.1h3.3v3.3h-3.3zM867.7 978.1h3.3v3.3h-3.3zM663.1 981.4h3.3v3.3h-3.3zM748.9 981.4h3.3v3.3h-3.3zM778.6 981.4h13.2v3.3h-13.2zM801.7 981.4h3.3v3.3h-3.3zM811.6 981.4h3.3v3.3h-3.3zM854.5 981.4h3.3v3.3h-3.3zM874.3 981.4h3.3v3.3h-3.3zM781.9 984.7h3.3v3.3h-3.3zM801.7 984.7h3.3v3.3h-3.3zM808.3 984.7h3.3v3.3h-3.3zM676.3 988.0h3.3v3.3h-3.3zM762.1 988.0h3.3v3.3h-3.3zM798.4 988.0h3.3v3.3h-3.3zM805.0 988.0h3.3v3.3h-3.3zM834.7 988.0h3.3v3.3h-3.3zM847.9 988.0h3.3v3.3h-3.3zM801.7 991.3h3.3v3.3h-3.3zM778.6 994.6h3.3v3.3h-3.3zM801.7 994.6h3.3v3.3h-3.3zM851.2 994.6h9.9v3.3h-9.9zM795.1 997.9h3.3v3.3h-3.3zM841.3 997.9h3.3v3.3h-3.3zM880.9 997.9h3.3v3.3h-3.3zM887.5 997.9h6.6v3.3h-6.6zM656.5 1001.2h6.6v3.3h-6.6zM841.3 1001.2h3.3v3.3h-3.3zM874.3 1001.2h3.3v3.3h-3.3zM890.8 1001.2h3.3v3.3h-3.3zM663.1 1004.5h3.3v3.3h-3.3zM785.2 1004.5h3.3v3.3h-3.3zM841.3 1004.5h6.6v3.3h-6.6zM887.5 1004.5h3.3v3.3h-3.3zM775.3 1007.8h3.3v3.3h-3.3zM781.9 1007.8h6.6v3.3h-6.6zM877.6 1007.8h3.3v3.3h-3.3zM884.2 1007.8h3.3v3.3h-3.3zM669.7 1011.1h3.3v3.3h-3.3zM795.1 1014.4h6.6v3.3h-6.6zM818.2 1014.4h3.3v3.3h-3.3zM841.3 1014.4h3.3v3.3h-3.3zM854.5 1014.4h3.3v3.3h-3.3zM890.8 1014.4h3.3v3.3h-3.3zM765.4 1017.7h3.3v3.3h-3.3zM824.8 1017.7h3.3v3.3h-3.3zM890.8 1017.7h3.3v3.3h-3.3zM805.0 1021.0h3.3v3.3h-3.3zM828.1 1021.0h3.3v3.3h-3.3zM828.1 1024.3h3.3v3.3h-3.3zM834.7 1024.3h3.3v3.3h-3.3zM857.8 1024.3h3.3v3.3h-3.3zM887.5 1024.3h6.6v3.3h-6.6zM755.5 1027.6h3.3v3.3h-3.3zM778.6 1027.6h13.2v3.3h-13.2zM801.7 1027.6h3.3v3.3h-3.3zM811.6 1027.6h3.3v3.3h-3.3zM818.2 1027.6h3.3v3.3h-3.3zM831.4 1027.6h3.3v3.3h-3.3zM729.1 1030.9h3.3v3.3h-3.3zM735.7 1030.9h3.3v3.3h-3.3zM775.3 1030.9h3.3v3.3h-3.3zM821.5 1030.9h3.3v3.3h-3.3zM828.1 1030.9h3.3v3.3h-3.3zM712.6 1034.2h3.3v3.3h-3.3zM765.4 1034.2h3.3v3.3h-3.3zM791.8 1034.2h3.3v3.3h-3.3zM798.4 1034.2h3.3v3.3h-3.3zM814.9 1034.2h3.3v3.3h-3.3zM821.5 1034.2h3.3v3.3h-3.3zM838.0 1034.2h3.3v3.3h-3.3zM811.6 1037.5h3.3v3.3h-3.3zM818.2 1037.5h3.3v3.3h-3.3zM847.9 1037.5h3.3v3.3h-3.3zM765.4 1040.8h3.3v3.3h-3.3zM811.6 1040.8h6.6v3.3h-6.6zM828.1 1040.8h3.3v3.3h-3.3zM854.5 1040.8h3.3v3.3h-3.3zM867.7 1040.8h3.3v3.3h-3.3zM772.0 1044.1h3.3v3.3h-3.3zM795.1 1044.1h3.3v3.3h-3.3zM838.0 1044.1h3.3v3.3h-3.3zM775.3 1047.4h3.3v3.3h-3.3zM791.8 1047.4h3.3v3.3h-3.3zM798.4 1047.4h3.3v3.3h-3.3zM838.0 1047.4h3.3v3.3h-3.3zM857.8 1047.4h3.3v3.3h-3.3zM798.4 1050.7h6.6v3.3h-6.6zM791.8 1054.0h6.6v3.3h-6.6zM808.3 1054.0h3.3v3.3h-3.3zM847.9 1054.0h6.6v3.3h-6.6zM884.2 1054.0h3.3v3.3h-3.3zM772.0 1057.3h3.3v3.3h-3.3zM788.5 1057.3h6.6v3.3h-6.6zM808.3 1057.3h3.3v3.3h-3.3zM838.0 1057.3h3.3v3.3h-3.3zM844.6 1057.3h6.6v3.3h-6.6z" fill="#9a3cf0"/>
<path d="M696.1 931.9h9.9v3.3h-9.9zM696.1 935.2h9.9v3.3h-9.9zM735.7 935.2h3.3v3.3h-3.3zM689.5 938.5h3.3v3.3h-3.3zM729.1 938.5h3.3v3.3h-3.3zM742.3 938.5h6.6v3.3h-6.6zM844.6 938.5h3.3v3.3h-3.3zM831.4 941.8h3.3v3.3h-3.3zM851.2 941.8h3.3v3.3h-3.3zM666.4 948.4h3.3v3.3h-3.3zM818.2 948.4h3.3v3.3h-3.3zM663.1 951.7h13.2v3.3h-13.2zM679.6 951.7h3.3v3.3h-3.3zM725.8 951.7h3.3v3.3h-3.3zM821.5 951.7h6.6v3.3h-6.6zM666.4 955.0h13.2v3.3h-13.2zM682.9 955.0h3.3v3.3h-3.3zM725.8 955.0h3.3v3.3h-3.3zM748.9 955.0h3.3v3.3h-3.3zM821.5 955.0h6.6v3.3h-6.6zM663.1 958.3h6.6v3.3h-6.6zM673.0 958.3h13.2v3.3h-13.2zM824.8 958.3h9.9v3.3h-9.9zM847.9 958.3h6.6v3.3h-6.6zM666.4 961.6h3.3v3.3h-3.3zM673.0 961.6h13.2v3.3h-13.2zM778.6 961.6h6.6v3.3h-6.6zM811.6 961.6h3.3v3.3h-3.3zM818.2 961.6h19.8v3.3h-19.8zM844.6 961.6h6.6v3.3h-6.6zM864.4 961.6h6.6v3.3h-6.6zM673.0 964.9h9.9v3.3h-9.9zM712.6 964.9h3.3v3.3h-3.3zM808.3 964.9h3.3v3.3h-3.3zM814.9 964.9h3.3v3.3h-3.3zM821.5 964.9h16.5v3.3h-16.5zM847.9 964.9h3.3v3.3h-3.3zM864.4 964.9h3.3v3.3h-3.3zM676.3 968.2h6.6v3.3h-6.6zM706.0 968.2h3.3v3.3h-3.3zM808.3 968.2h3.3v3.3h-3.3zM814.9 968.2h6.6v3.3h-6.6zM824.8 968.2h3.3v3.3h-3.3zM831.4 968.2h6.6v3.3h-6.6zM854.5 968.2h13.2v3.3h-13.2zM706.0 971.5h3.3v3.3h-3.3zM805.0 971.5h13.2v3.3h-13.2zM821.5 971.5h6.6v3.3h-6.6zM831.4 971.5h16.5v3.3h-16.5zM857.8 971.5h9.9v3.3h-9.9zM659.8 974.8h3.3v3.3h-3.3zM699.4 974.8h6.6v3.3h-6.6zM801.7 974.8h6.6v3.3h-6.6zM811.6 974.8h6.6v3.3h-6.6zM821.5 974.8h3.3v3.3h-3.3zM828.1 974.8h3.3v3.3h-3.3zM834.7 974.8h3.3v3.3h-3.3zM841.3 974.8h3.3v3.3h-3.3zM847.9 974.8h3.3v3.3h-3.3zM861.1 974.8h6.6v3.3h-6.6zM659.8 978.1h3.3v3.3h-3.3zM696.1 978.1h6.6v3.3h-6.6zM808.3 978.1h6.6v3.3h-6.6zM818.2 978.1h26.4v3.3h-26.4zM847.9 978.1h19.8v3.3h-19.8zM699.4 981.4h3.3v3.3h-3.3zM791.8 981.4h3.3v3.3h-3.3zM808.3 981.4h3.3v3.3h-3.3zM814.9 981.4h16.5v3.3h-16.5zM834.7 981.4h3.3v3.3h-3.3zM841.3 981.4h13.2v3.3h-13.2zM857.8 981.4h16.5v3.3h-16.5zM686.2 984.7h3.3v3.3h-3.3zM805.0 984.7h3.3v3.3h-3.3zM811.6 984.7h16.5v3.3h-16.5zM831.4 984.7h42.9v3.3h-42.9zM669.7 988.0h6.6v3.3h-6.6zM682.9 988.0h3.3v3.3h-3.3zM755.5 988.0h6.6v3.3h-6.6zM801.7 988.0h3.3v3.3h-3.3zM808.3 988.0h26.4v3.3h-26.4zM838.0 988.0h9.9v3.3h-9.9zM851.2 988.0h13.2v3.3h-13.2zM679.6 991.3h3.3v3.3h-3.3zM772.0 991.3h9.9v3.3h-9.9zM798.4 991.3h3.3v3.3h-3.3zM805.0 991.3h6.6v3.3h-6.6zM831.4 991.3h39.6v3.3h-39.6zM679.6 994.6h3.3v3.3h-3.3zM772.0 994.6h6.6v3.3h-6.6zM798.4 994.6h3.3v3.3h-3.3zM838.0 994.6h13.2v3.3h-13.2zM861.1 994.6h9.9v3.3h-9.9zM877.6 994.6h3.3v3.3h-3.3zM890.8 994.6h3.3v3.3h-3.3zM656.5 997.9h3.3v3.3h-3.3zM666.4 997.9h3.3v3.3h-3.3zM801.7 997.9h3.3v3.3h-3.3zM844.6 997.9h36.3v3.3h-36.3zM663.1 1001.2h6.6v3.3h-6.6zM772.0 1001.2h3.3v3.3h-3.3zM838.0 1001.2h3.3v3.3h-3.3zM844.6 1001.2h29.7v3.3h-29.7zM877.6 1001.2h13.2v3.3h-13.2zM659.8 1004.5h3.3v3.3h-3.3zM788.5 1004.5h3.3v3.3h-3.3zM847.9 1004.5h3.3v3.3h-3.3zM857.8 1004.5h9.9v3.3h-9.9zM871.0 1004.5h16.5v3.3h-16.5zM890.8 1004.5h3.3v3.3h-3.3zM669.7 1007.8h3.3v3.3h-3.3zM791.8 1007.8h6.6v3.3h-6.6zM801.7 1007.8h3.3v3.3h-3.3zM841.3 1007.8h9.9v3.3h-9.9zM854.5 1007.8h3.3v3.3h-3.3zM861.1 1007.8h9.9v3.3h-9.9zM788.5 1011.1h9.9v3.3h-9.9zM805.0 1011.1h3.3v3.3h-3.3zM824.8 1011.1h39.6v3.3h-39.6zM867.7 1011.1h3.3v3.3h-3.3zM666.4 1014.4h6.6v3.3h-6.6zM768.7 1014.4h6.6v3.3h-6.6zM811.6 1014.4h6.6v3.3h-6.6zM821.5 1014.4h6.6v3.3h-6.6zM831.4 1014.4h9.9v3.3h-9.9zM844.6 1014.4h9.9v3.3h-9.9zM857.8 1014.4h6.6v3.3h-6.6zM874.3 1014.4h3.3v3.3h-3.3zM887.5 1014.4h3.3v3.3h-3.3zM666.4 1017.7h6.6v3.3h-6.6zM814.9 1017.7h9.9v3.3h-9.9zM828.1 1017.7h36.3v3.3h-36.3zM884.2 1017.7h6.6v3.3h-6.6zM821.5 1021.0h6.6v3.3h-6.6zM831.4 1021.0h6.6v3.3h-6.6zM854.5 1021.0h6.6v3.3h-6.6zM884.2 1021.0h6.6v3.3h-6.6zM669.7 1024.3h3.3v3.3h-3.3zM748.9 1024.3h3.3v3.3h-3.3zM755.5 1024.3h6.6v3.3h-6.6zM818.2 1024.3h9.9v3.3h-9.9zM831.4 1024.3h3.3v3.3h-3.3zM669.7 1027.6h3.3v3.3h-3.3zM745.6 1027.6h3.3v3.3h-3.3zM768.7 1027.6h3.3v3.3h-3.3zM805.0 1027.6h3.3v3.3h-3.3zM814.9 1027.6h3.3v3.3h-3.3zM821.5 1027.6h3.3v3.3h-3.3zM828.1 1027.6h3.3v3.3h-3.3zM834.7 1027.6h3.3v3.3h-3.3zM857.8 1027.6h3.3v3.3h-3.3zM871.0 1027.6h3.3v3.3h-3.3zM699.4 1030.9h6.6v3.3h-6.6zM709.3 1030.9h3.3v3.3h-3.3zM739.0 1030.9h3.3v3.3h-3.3zM768.7 1030.9h6.6v3.3h-6.6zM814.9 1030.9h6.6v3.3h-6.6zM824.8 1030.9h3.3v3.3h-3.3zM831.4 1030.9h6.6v3.3h-6.6zM689.5 1034.2h3.3v3.3h-3.3zM709.3 1034.2h3.3v3.3h-3.3zM725.8 1034.2h3.3v3.3h-3.3zM755.5 1034.2h3.3v3.3h-3.3zM762.1 1034.2h3.3v3.3h-3.3zM768.7 1034.2h3.3v3.3h-3.3zM818.2 1034.2h3.3v3.3h-3.3zM824.8 1034.2h3.3v3.3h-3.3zM834.7 1034.2h3.3v3.3h-3.3zM689.5 1037.5h6.6v3.3h-6.6zM715.9 1037.5h3.3v3.3h-3.3zM722.5 1037.5h3.3v3.3h-3.3zM768.7 1037.5h3.3v3.3h-3.3zM814.9 1037.5h3.3v3.3h-3.3zM821.5 1037.5h6.6v3.3h-6.6zM834.7 1037.5h9.9v3.3h-9.9zM851.2 1037.5h3.3v3.3h-3.3zM686.2 1040.8h3.3v3.3h-3.3zM719.2 1040.8h3.3v3.3h-3.3zM768.7 1040.8h3.3v3.3h-3.3zM824.8 1040.8h3.3v3.3h-3.3zM811.6 1047.4h3.3v3.3h-3.3zM841.3 1047.4h3.3v3.3h-3.3zM729.1 1050.7h3.3v3.3h-3.3zM791.8 1050.7h3.3v3.3h-3.3zM808.3 1050.7h3.3v3.3h-3.3zM838.0 1050.7h6.6v3.3h-6.6zM805.0 1054.0h3.3v3.3h-3.3zM838.0 1054.0h9.9v3.3h-9.9zM841.3 1057.3h3.3v3.3h-3.3z" fill="#2a30ff"/>
<path d="M692.8 938.5h3.3v3.3h-3.3zM739.0 938.5h3.3v3.3h-3.3zM689.5 941.8h9.9v3.3h-9.9zM748.9 941.8h3.3v3.3h-3.3zM692.8 945.1h3.3v3.3h-3.3zM748.9 945.1h3.3v3.3h-3.3zM686.2 948.4h3.3v3.3h-3.3zM689.5 951.7h3.3v3.3h-3.3zM732.4 951.7h3.3v3.3h-3.3zM748.9 951.7h3.3v3.3h-3.3zM663.1 955.0h3.3v3.3h-3.3zM742.3 955.0h3.3v3.3h-3.3zM854.5 955.0h3.3v3.3h-3.3zM729.1 958.3h6.6v3.3h-6.6zM748.9 958.3h3.3v3.3h-3.3zM798.4 958.3h3.3v3.3h-3.3zM854.5 958.3h3.3v3.3h-3.3zM729.1 961.6h3.3v3.3h-3.3zM748.9 961.6h3.3v3.3h-3.3zM798.4 961.6h3.3v3.3h-3.3zM851.2 961.6h6.6v3.3h-6.6zM712.6 968.2h6.6v3.3h-6.6zM722.5 968.2h3.3v3.3h-3.3zM745.6 968.2h3.3v3.3h-3.3zM828.1 971.5h3.3v3.3h-3.3zM729.1 974.8h6.6v3.3h-6.6zM831.4 974.8h3.3v3.3h-3.3zM838.0 974.8h3.3v3.3h-3.3zM857.8 974.8h3.3v3.3h-3.3zM702.7 978.1h6.6v3.3h-6.6zM725.8 978.1h3.3v3.3h-3.3zM814.9 978.1h3.3v3.3h-3.3zM689.5 981.4h3.3v3.3h-3.3zM709.3 981.4h3.3v3.3h-3.3zM715.9 981.4h6.6v3.3h-6.6zM745.6 981.4h3.3v3.3h-3.3zM798.4 981.4h3.3v3.3h-3.3zM831.4 981.4h3.3v3.3h-3.3zM838.0 981.4h3.3v3.3h-3.3zM706.0 984.7h3.3v3.3h-3.3zM719.2 984.7h3.3v3.3h-3.3zM828.1 984.7h3.3v3.3h-3.3zM666.4 988.0h3.3v3.3h-3.3zM752.2 988.0h3.3v3.3h-3.3zM871.0 988.0h9.9v3.3h-9.9zM659.8 991.3h3.3v3.3h-3.3zM666.4 991.3h3.3v3.3h-3.3zM676.3 991.3h3.3v3.3h-3.3zM871.0 991.3h3.3v3.3h-3.3zM880.9 991.3h3.3v3.3h-3.3zM656.5 994.6h3.3v3.3h-3.3zM666.4 994.6h6.6v3.3h-6.6zM805.0 994.6h3.3v3.3h-3.3zM874.3 994.6h3.3v3.3h-3.3zM663.1 997.9h3.3v3.3h-3.3zM772.0 997.9h3.3v3.3h-3.3zM798.4 997.9h3.3v3.3h-3.3zM838.0 997.9h3.3v3.3h-3.3zM758.8 1001.2h3.3v3.3h-3.3zM669.7 1004.5h3.3v3.3h-3.3zM795.1 1004.5h3.3v3.3h-3.3zM811.6 1004.5h3.3v3.3h-3.3zM851.2 1004.5h6.6v3.3h-6.6zM867.7 1004.5h3.3v3.3h-3.3zM805.0 1007.8h3.3v3.3h-3.3zM811.6 1007.8h3.3v3.3h-3.3zM834.7 1007.8h6.6v3.3h-6.6zM851.2 1007.8h3.3v3.3h-3.3zM673.0 1011.1h3.3v3.3h-3.3zM762.1 1011.1h3.3v3.3h-3.3zM808.3 1011.1h3.3v3.3h-3.3zM864.4 1011.1h3.3v3.3h-3.3zM673.0 1014.4h3.3v3.3h-3.3zM758.8 1014.4h3.3v3.3h-3.3zM828.1 1014.4h3.3v3.3h-3.3zM871.0 1014.4h3.3v3.3h-3.3zM673.0 1017.7h3.3v3.3h-3.3zM762.1 1017.7h3.3v3.3h-3.3zM808.3 1017.7h6.6v3.3h-6.6zM669.7 1021.0h13.2v3.3h-13.2zM748.9 1021.0h6.6v3.3h-6.6zM808.3 1021.0h3.3v3.3h-3.3zM814.9 1021.0h3.3v3.3h-3.3zM838.0 1021.0h3.3v3.3h-3.3zM676.3 1024.3h6.6v3.3h-6.6zM686.2 1024.3h6.6v3.3h-6.6zM702.7 1024.3h13.2v3.3h-13.2zM811.6 1024.3h3.3v3.3h-3.3zM838.0 1024.3h6.6v3.3h-6.6zM673.0 1027.6h3.3v3.3h-3.3zM686.2 1027.6h3.3v3.3h-3.3zM702.7 1027.6h3.3v3.3h-3.3zM712.6 1027.6h3.3v3.3h-3.3zM725.8 1027.6h3.3v3.3h-3.3zM732.4 1027.6h3.3v3.3h-3.3zM765.4 1027.6h3.3v3.3h-3.3zM669.7 1030.9h3.3v3.3h-3.3zM686.2 1030.9h13.2v3.3h-13.2zM706.0 1030.9h3.3v3.3h-3.3zM712.6 1030.9h3.3v3.3h-3.3zM719.2 1030.9h3.3v3.3h-3.3zM765.4 1030.9h3.3v3.3h-3.3zM838.0 1030.9h3.3v3.3h-3.3zM676.3 1034.2h6.6v3.3h-6.6zM715.9 1034.2h3.3v3.3h-3.3zM722.5 1034.2h3.3v3.3h-3.3zM758.8 1034.2h3.3v3.3h-3.3zM828.1 1037.5h3.3v3.3h-3.3zM805.0 1044.1h9.9v3.3h-9.9zM808.3 1047.4h3.3v3.3h-3.3zM805.0 1050.7h3.3v3.3h-3.3z" fill="#00b4ff"/>
<path d="M732.4 938.5h6.6v3.3h-6.6zM732.4 941.8h16.5v3.3h-16.5zM686.2 945.1h6.6v3.3h-6.6zM696.1 945.1h3.3v3.3h-3.3zM729.1 945.1h6.6v3.3h-6.6zM739.0 945.1h9.9v3.3h-9.9zM689.5 948.4h9.9v3.3h-9.9zM729.1 948.4h9.9v3.3h-9.9zM742.3 948.4h9.9v3.3h-9.9zM692.8 951.7h6.6v3.3h-6.6zM729.1 951.7h3.3v3.3h-3.3zM735.7 951.7h13.2v3.3h-13.2zM729.1 955.0h9.9v3.3h-9.9zM745.6 955.0h3.3v3.3h-3.3zM795.1 955.0h3.3v3.3h-3.3zM851.2 955.0h3.3v3.3h-3.3zM735.7 958.3h3.3v3.3h-3.3zM745.6 958.3h3.3v3.3h-3.3zM791.8 958.3h6.6v3.3h-6.6zM732.4 961.6h6.6v3.3h-6.6zM745.6 961.6h3.3v3.3h-3.3zM791.8 961.6h6.6v3.3h-6.6zM729.1 964.9h9.9v3.3h-9.9zM745.6 964.9h3.3v3.3h-3.3zM791.8 964.9h6.6v3.3h-6.6zM709.3 968.2h3.3v3.3h-3.3zM719.2 968.2h3.3v3.3h-3.3zM725.8 968.2h13.2v3.3h-13.2zM709.3 971.5h29.7v3.3h-29.7zM768.7 971.5h3.3v3.3h-3.3zM709.3 974.8h19.8v3.3h-19.8zM735.7 974.8h3.3v3.3h-3.3zM709.3 978.1h16.5v3.3h-16.5zM729.1 978.1h9.9v3.3h-9.9zM795.1 978.1h6.6v3.3h-6.6zM692.8 981.4h6.6v3.3h-6.6zM702.7 981.4h6.6v3.3h-6.6zM712.6 981.4h3.3v3.3h-3.3zM722.5 981.4h16.5v3.3h-16.5zM795.1 981.4h3.3v3.3h-3.3zM689.5 984.7h16.5v3.3h-16.5zM709.3 984.7h9.9v3.3h-9.9zM722.5 984.7h13.2v3.3h-13.2zM742.3 984.7h9.9v3.3h-9.9zM795.1 984.7h6.6v3.3h-6.6zM659.8 988.0h6.6v3.3h-6.6zM686.2 988.0h13.2v3.3h-13.2zM702.7 988.0h6.6v3.3h-6.6zM715.9 988.0h9.9v3.3h-9.9zM729.1 988.0h3.3v3.3h-3.3zM742.3 988.0h9.9v3.3h-9.9zM795.1 988.0h3.3v3.3h-3.3zM656.5 991.3h3.3v3.3h-3.3zM663.1 991.3h3.3v3.3h-3.3zM669.7 991.3h6.6v3.3h-6.6zM682.9 991.3h9.9v3.3h-9.9zM709.3 991.3h3.3v3.3h-3.3zM739.0 991.3h6.6v3.3h-6.6zM748.9 991.3h23.1v3.3h-23.1zM811.6 991.3h6.6v3.3h-6.6zM821.5 991.3h9.9v3.3h-9.9zM874.3 991.3h6.6v3.3h-6.6zM659.8 994.6h6.6v3.3h-6.6zM673.0 994.6h6.6v3.3h-6.6zM682.9 994.6h3.3v3.3h-3.3zM702.7 994.6h3.3v3.3h-3.3zM719.2 994.6h9.9v3.3h-9.9zM755.5 994.6h9.9v3.3h-9.9zM808.3 994.6h3.3v3.3h-3.3zM814.9 994.6h3.3v3.3h-3.3zM828.1 994.6h9.9v3.3h-9.9zM659.8 997.9h3.3v3.3h-3.3zM669.7 997.9h16.5v3.3h-16.5zM725.8 997.9h3.3v3.3h-3.3zM755.5 997.9h16.5v3.3h-16.5zM805.0 997.9h9.9v3.3h-9.9zM821.5 997.9h3.3v3.3h-3.3zM831.4 997.9h6.6v3.3h-6.6zM669.7 1001.2h13.2v3.3h-13.2zM762.1 1001.2h3.3v3.3h-3.3zM795.1 1001.2h19.8v3.3h-19.8zM831.4 1001.2h6.6v3.3h-6.6zM673.0 1004.5h3.3v3.3h-3.3zM679.6 1004.5h9.9v3.3h-9.9zM758.8 1004.5h9.9v3.3h-9.9zM798.4 1004.5h13.2v3.3h-13.2zM824.8 1004.5h16.5v3.3h-16.5zM673.0 1007.8h9.9v3.3h-9.9zM686.2 1007.8h3.3v3.3h-3.3zM696.1 1007.8h3.3v3.3h-3.3zM702.7 1007.8h3.3v3.3h-3.3zM758.8 1007.8h6.6v3.3h-6.6zM798.4 1007.8h3.3v3.3h-3.3zM808.3 1007.8h3.3v3.3h-3.3zM814.9 1007.8h6.6v3.3h-6.6zM824.8 1007.8h9.9v3.3h-9.9zM871.0 1007.8h3.3v3.3h-3.3zM676.3 1011.1h9.9v3.3h-9.9zM699.4 1011.1h3.3v3.3h-3.3zM725.8 1011.1h3.3v3.3h-3.3zM745.6 1011.1h3.3v3.3h-3.3zM758.8 1011.1h3.3v3.3h-3.3zM765.4 1011.1h3.3v3.3h-3.3zM811.6 1011.1h13.2v3.3h-13.2zM871.0 1011.1h3.3v3.3h-3.3zM676.3 1014.4h6.6v3.3h-6.6zM686.2 1014.4h13.2v3.3h-13.2zM702.7 1014.4h3.3v3.3h-3.3zM725.8 1014.4h3.3v3.3h-3.3zM739.0 1014.4h3.3v3.3h-3.3zM745.6 1014.4h13.2v3.3h-13.2zM762.1 1014.4h6.6v3.3h-6.6zM867.7 1014.4h3.3v3.3h-3.3zM676.3 1017.7h13.2v3.3h-13.2zM696.1 1017.7h3.3v3.3h-3.3zM702.7 1017.7h3.3v3.3h-3.3zM712.6 1017.7h13.2v3.3h-13.2zM729.1 1017.7h9.9v3.3h-9.9zM745.6 1017.7h16.5v3.3h-16.5zM682.9 1021.0h16.5v3.3h-16.5zM702.7 1021.0h26.4v3.3h-26.4zM732.4 1021.0h16.5v3.3h-16.5zM811.6 1021.0h3.3v3.3h-3.3zM841.3 1021.0h13.2v3.3h-13.2zM673.0 1024.3h3.3v3.3h-3.3zM682.9 1024.3h3.3v3.3h-3.3zM692.8 1024.3h6.6v3.3h-6.6zM715.9 1024.3h6.6v3.3h-6.6zM725.8 1024.3h9.9v3.3h-9.9zM739.0 1024.3h9.9v3.3h-9.9zM808.3 1024.3h3.3v3.3h-3.3zM844.6 1024.3h13.2v3.3h-13.2zM676.3 1027.6h9.9v3.3h-9.9zM689.5 1027.6h13.2v3.3h-13.2zM706.0 1027.6h6.6v3.3h-6.6zM715.9 1027.6h9.9v3.3h-9.9zM729.1 1027.6h3.3v3.3h-3.3zM735.7 1027.6h9.9v3.3h-9.9zM758.8 1027.6h6.6v3.3h-6.6zM838.0 1027.6h19.8v3.3h-19.8zM673.0 1030.9h13.2v3.3h-13.2zM715.9 1030.9h3.3v3.3h-3.3zM722.5 1030.9h6.6v3.3h-6.6zM755.5 1030.9h9.9v3.3h-9.9zM841.3 1030.9h13.2v3.3h-13.2zM673.0 1034.2h3.3v3.3h-3.3zM692.8 1034.2h3.3v3.3h-3.3zM719.2 1034.2h3.3v3.3h-3.3zM828.1 1034.2h6.6v3.3h-6.6zM841.3 1034.2h13.2v3.3h-13.2zM719.2 1037.5h3.3v3.3h-3.3zM831.4 1037.5h3.3v3.3h-3.3zM689.5 1040.8h3.3v3.3h-3.3zM805.0 1040.8h6.6v3.3h-6.6zM801.7 1044.1h3.3v3.3h-3.3zM801.7 1047.4h6.6v3.3h-6.6z" fill="#10e050"/>
<path d="M729.1 941.8h3.3v3.3h-3.3zM735.7 945.1h3.3v3.3h-3.3zM739.0 948.4h3.3v3.3h-3.3zM739.0 958.3h3.3v3.3h-3.3zM742.3 981.4h3.3v3.3h-3.3zM709.3 988.0h6.6v3.3h-6.6zM732.4 988.0h3.3v3.3h-3.3zM692.8 991.3h9.9v3.3h-9.9zM706.0 991.3h3.3v3.3h-3.3zM712.6 991.3h3.3v3.3h-3.3zM719.2 991.3h3.3v3.3h-3.3zM725.8 991.3h3.3v3.3h-3.3zM745.6 991.3h3.3v3.3h-3.3zM818.2 991.3h3.3v3.3h-3.3zM699.4 994.6h3.3v3.3h-3.3zM709.3 994.6h3.3v3.3h-3.3zM752.2 994.6h3.3v3.3h-3.3zM765.4 994.6h6.6v3.3h-6.6zM818.2 994.6h6.6v3.3h-6.6zM706.0 997.9h3.3v3.3h-3.3zM742.3 997.9h3.3v3.3h-3.3zM818.2 997.9h3.3v3.3h-3.3zM828.1 997.9h3.3v3.3h-3.3zM682.9 1001.2h6.6v3.3h-6.6zM706.0 1001.2h3.3v3.3h-3.3zM722.5 1001.2h3.3v3.3h-3.3zM755.5 1001.2h3.3v3.3h-3.3zM765.4 1001.2h6.6v3.3h-6.6zM828.1 1001.2h3.3v3.3h-3.3zM676.3 1004.5h3.3v3.3h-3.3zM719.2 1004.5h3.3v3.3h-3.3zM748.9 1004.5h3.3v3.3h-3.3zM755.5 1004.5h3.3v3.3h-3.3zM719.2 1007.8h3.3v3.3h-3.3zM748.9 1007.8h3.3v3.3h-3.3zM755.5 1007.8h3.3v3.3h-3.3zM821.5 1007.8h3.3v3.3h-3.3zM689.5 1011.1h6.6v3.3h-6.6zM702.7 1011.1h3.3v3.3h-3.3zM709.3 1011.1h3.3v3.3h-3.3zM715.9 1011.1h3.3v3.3h-3.3zM748.9 1011.1h3.3v3.3h-3.3zM755.5 1011.1h3.3v3.3h-3.3zM682.9 1014.4h3.3v3.3h-3.3zM706.0 1014.4h3.3v3.3h-3.3zM732.4 1014.4h6.6v3.3h-6.6zM742.3 1014.4h3.3v3.3h-3.3zM689.5 1017.7h6.6v3.3h-6.6zM699.4 1017.7h3.3v3.3h-3.3zM706.0 1017.7h6.6v3.3h-6.6zM739.0 1017.7h6.6v3.3h-6.6zM699.4 1021.0h3.3v3.3h-3.3zM729.1 1021.0h3.3v3.3h-3.3zM699.4 1024.3h3.3v3.3h-3.3zM722.5 1024.3h3.3v3.3h-3.3zM735.7 1024.3h3.3v3.3h-3.3zM854.5 1030.9h3.3v3.3h-3.3z" fill="#b4f000"/>
<path d="M739.0 955.0h3.3v3.3h-3.3zM742.3 958.3h3.3v3.3h-3.3zM739.0 961.6h6.6v3.3h-6.6zM739.0 974.8h3.3v3.3h-3.3zM739.0 978.1h3.3v3.3h-3.3zM699.4 988.0h3.3v3.3h-3.3zM725.8 988.0h3.3v3.3h-3.3zM735.7 988.0h3.3v3.3h-3.3zM715.9 991.3h3.3v3.3h-3.3zM722.5 991.3h3.3v3.3h-3.3zM729.1 991.3h9.9v3.3h-9.9zM686.2 994.6h9.9v3.3h-9.9zM706.0 994.6h3.3v3.3h-3.3zM712.6 994.6h6.6v3.3h-6.6zM729.1 994.6h19.8v3.3h-19.8zM811.6 994.6h3.3v3.3h-3.3zM824.8 994.6h3.3v3.3h-3.3zM686.2 997.9h3.3v3.3h-3.3zM709.3 997.9h16.5v3.3h-16.5zM729.1 997.9h9.9v3.3h-9.9zM745.6 997.9h6.6v3.3h-6.6zM814.9 997.9h3.3v3.3h-3.3zM824.8 997.9h3.3v3.3h-3.3zM709.3 1001.2h9.9v3.3h-9.9zM752.2 1001.2h3.3v3.3h-3.3zM814.9 1001.2h13.2v3.3h-13.2zM702.7 1004.5h6.6v3.3h-6.6zM712.6 1004.5h3.3v3.3h-3.3zM745.6 1004.5h3.3v3.3h-3.3zM752.2 1004.5h3.3v3.3h-3.3zM772.0 1004.5h3.3v3.3h-3.3zM814.9 1004.5h9.9v3.3h-9.9zM682.9 1007.8h3.3v3.3h-3.3zM689.5 1007.8h6.6v3.3h-6.6zM699.4 1007.8h3.3v3.3h-3.3zM712.6 1007.8h6.6v3.3h-6.6zM725.8 1007.8h3.3v3.3h-3.3zM765.4 1007.8h3.3v3.3h-3.3zM686.2 1011.1h3.3v3.3h-3.3zM696.1 1011.1h3.3v3.3h-3.3zM706.0 1011.1h3.3v3.3h-3.3zM719.2 1011.1h6.6v3.3h-6.6zM729.1 1011.1h3.3v3.3h-3.3zM742.3 1011.1h3.3v3.3h-3.3zM752.2 1011.1h3.3v3.3h-3.3zM772.0 1011.1h3.3v3.3h-3.3zM699.4 1014.4h3.3v3.3h-3.3zM709.3 1014.4h3.3v3.3h-3.3zM719.2 1014.4h6.6v3.3h-6.6zM729.1 1014.4h3.3v3.3h-3.3zM725.8 1017.7h3.3v3.3h-3.3z" fill="#ffe000"/>
<path d="M739.0 964.9h6.6v3.3h-6.6zM742.3 974.8h3.3v3.3h-3.3zM742.3 978.1h3.3v3.3h-3.3zM739.0 981.4h3.3v3.3h-3.3zM735.7 984.7h6.6v3.3h-6.6zM702.7 991.3h3.3v3.3h-3.3zM696.1 994.6h3.3v3.3h-3.3zM748.9 994.6h3.3v3.3h-3.3zM689.5 997.9h3.3v3.3h-3.3zM739.0 997.9h3.3v3.3h-3.3zM752.2 997.9h3.3v3.3h-3.3zM689.5 1001.2h3.3v3.3h-3.3zM719.2 1001.2h3.3v3.3h-3.3zM725.8 1001.2h6.6v3.3h-6.6zM742.3 1001.2h9.9v3.3h-9.9zM689.5 1004.5h6.6v3.3h-6.6zM709.3 1004.5h3.3v3.3h-3.3zM715.9 1004.5h3.3v3.3h-3.3zM722.5 1004.5h6.6v3.3h-6.6zM739.0 1004.5h3.3v3.3h-3.3zM768.7 1004.5h3.3v3.3h-3.3zM706.0 1007.8h6.6v3.3h-6.6zM739.0 1007.8h3.3v3.3h-3.3zM752.2 1007.8h3.3v3.3h-3.3zM768.7 1007.8h3.3v3.3h-3.3zM712.6 1011.1h3.3v3.3h-3.3zM768.7 1011.1h3.3v3.3h-3.3zM712.6 1014.4h6.6v3.3h-6.6z" fill="#ff8a00"/>
<path d="M739.0 968.2h6.6v3.3h-6.6zM739.0 971.5h6.6v3.3h-6.6zM739.0 988.0h3.3v3.3h-3.3zM692.8 997.9h13.2v3.3h-13.2zM692.8 1001.2h13.2v3.3h-13.2zM732.4 1001.2h9.9v3.3h-9.9zM696.1 1004.5h6.6v3.3h-6.6zM729.1 1004.5h9.9v3.3h-9.9zM742.3 1004.5h3.3v3.3h-3.3zM722.5 1007.8h3.3v3.3h-3.3zM729.1 1007.8h9.9v3.3h-9.9zM742.3 1007.8h6.6v3.3h-6.6zM772.0 1007.8h3.3v3.3h-3.3zM732.4 1011.1h9.9v3.3h-9.9z" fill="#ff2a00"/></g></g>
<g fill="none" stroke-linecap="round" filter="url(#bl1)">
<path d="M618.4 1039.8 A212 212 0 0 0 990.8 1000.7 L993 990 A205 205 0 0 1 633.4 1026.7 Z" fill="#f4f4f4" stroke="none"/>
<path d="M636 1046 A201 201 0 0 0 760 1120" stroke="#000" stroke-width="2.4" opacity="0.55"/>
<path d="M700 1108 A206 206 0 0 0 930 1078" stroke="#000" stroke-width="1.8" opacity="0.5"/>
<path d="M595 962 A214 214 0 0 0 644 1078" stroke="#9a9a9a" stroke-width="2"/>
<path d="M601 954 A200 200 0 0 0 634 1040" stroke="#8a8a8a" stroke-width="1.8"/>
<path d="M900 1112 A214 214 0 0 0 996 985" stroke="#a8a8a8" stroke-width="2"/>
<path d="M676 1104 A222 222 0 0 0 900 1112" stroke="#c4c4c4" stroke-width="3"/>
<path d="M755 733 Q786.9 731.7 818 724.5 Q785.6 721.8 755 733Z" fill="#ededed" stroke="none"/>
<path d="M756 736 Q769.1 736.3 780 729 Q766.3 726.7 756 736Z" fill="#fff" stroke="none"/>
<path d="M753 752 Q783.0 755.0 813 752 Q783.0 745.0 753 752Z" fill="#e4e4e4" stroke="none"/>
<path d="M773 747 Q784.2 754.5 796 748 Q784.8 740.5 773 747Z" fill="#fff" stroke="none"/>
<path d="M668 799 Q705.1 781.4 738 757 Q695.8 766.0 668 799Z" fill="#f6f6f6" stroke="none"/>
<path d="M672 781 Q694.5 768.4 716 754 Q690.3 761.5 672 781Z" fill="#d8d8d8" stroke="none"/>
<path d="M860 765 Q902.4 802.3 946 838 Q912.7 790.1 860 765Z" fill="#f6f6f6" stroke="none"/>
<path d="M895 787 Q910.3 806.3 932 818 Q919.3 795.6 895 787Z" fill="#fff" stroke="none"/>
<path d="M881 746 Q912.5 767.5 944 789 Q918.1 759.2 881 746Z" fill="#e6e6e6" stroke="none"/>
<path d="M888 748 Q894.1 758.2 906 758 Q899.9 747.8 888 748Z" fill="#fff" stroke="none"/>
<path d="M884 760 Q887.1 772.9 900 776 Q896.9 763.1 884 760Z" fill="#fff" stroke="none"/>
<path d="M922 786 Q931.7 797.5 944 806 Q937.0 791.6 922 786Z" fill="#dcdcdc" stroke="none"/>
</g>
<rect x="1133.3" y="713" width="13.4" height="446.6" fill="url(#cb)"/>
<text x="1083.9" y="719.6" font-size="14.20" textLength="28.2" lengthAdjust="spacingAndGlyphs" style="fill:#d6d6d6" class="se">3456</text>
<rect x="1125.3" y="714.6" width="8" height="1.2" fill="#c8c8c8"/>
<text x="1083.9" y="764.1" font-size="14.20" textLength="28.2" lengthAdjust="spacingAndGlyphs" style="fill:#d6d6d6" class="se">3386</text>
<text x="1083.9" y="808.7" font-size="14.20" textLength="28.2" lengthAdjust="spacingAndGlyphs" style="fill:#d6d6d6" class="se">3316</text>
<rect x="1125.3" y="803.7" width="8" height="1.2" fill="#c8c8c8"/>
<text x="1083.9" y="853.2" font-size="14.20" textLength="28.2" lengthAdjust="spacingAndGlyphs" style="fill:#d6d6d6" class="se">3247</text>
<text x="1083.9" y="897.7" font-size="14.20" textLength="28.2" lengthAdjust="spacingAndGlyphs" style="fill:#d6d6d6" class="se">3177</text>
<rect x="1125.3" y="892.7" width="8" height="1.2" fill="#c8c8c8"/>
<text x="1083.9" y="942.2" font-size="14.20" textLength="28.2" lengthAdjust="spacingAndGlyphs" style="fill:#d6d6d6" class="se">3107</text>
<rect x="1125.3" y="937.2" width="8" height="1.2" fill="#c8c8c8"/>
<text x="1083.9" y="986.8" font-size="14.20" textLength="28.2" lengthAdjust="spacingAndGlyphs" style="fill:#d6d6d6" class="se">3037</text>
<rect x="1125.3" y="981.8" width="8" height="1.2" fill="#c8c8c8"/>
<text x="1083.9" y="1031.3" font-size="14.20" textLength="28.2" lengthAdjust="spacingAndGlyphs" style="fill:#d6d6d6" class="se">2967</text>
<rect x="1125.3" y="1026.3" width="8" height="1.2" fill="#c8c8c8"/>
<text x="1083.9" y="1075.8" font-size="14.20" textLength="28.2" lengthAdjust="spacingAndGlyphs" style="fill:#d6d6d6" class="se">2897</text>
<rect x="1125.3" y="1070.8" width="8" height="1.2" fill="#c8c8c8"/>
<text x="1083.9" y="1120.4" font-size="14.20" textLength="28.2" lengthAdjust="spacingAndGlyphs" style="fill:#d6d6d6" class="se">2827</text>
<rect x="1125.3" y="1115.4" width="8" height="1.2" fill="#c8c8c8"/>
<text x="1083.9" y="1164.9" font-size="14.20" textLength="28.2" lengthAdjust="spacingAndGlyphs" style="fill:#d6d6d6" class="se">2758</text>
<text x="1100.0" y="697.4" font-size="14.00" textLength="31.0" lengthAdjust="spacingAndGlyphs" style="fill:#d6d6d6" class="se">[cps]</text>
<text x="1100.0" y="1185.0" font-size="14.00" textLength="31.0" lengthAdjust="spacingAndGlyphs" style="fill:#d6d6d6" class="se">[cps]</text>
</g>
<g id="pE">
<text x="1220.4" y="680.4" font-size="39.00" textLength="25.0" lengthAdjust="spacingAndGlyphs" class="b">E</text>
<path d="M1264.3 855 L1465 905 L1637.5 854 M1465.6 904 V1123.6" fill="none" stroke="#000" stroke-width="3.4" stroke-linejoin="miter"/>
<text x="1335.8" y="803.5" font-size="26.94" textLength="129.8" lengthAdjust="spacingAndGlyphs" class="b">35S:GFP+</text>
<text x="1336.3" y="843.3" font-size="26.94" textLength="229.6" lengthAdjust="spacingAndGlyphs" class="b">ProPpSBRL2-Luc</text>
<text x="1223.5" y="1003.0" font-size="26.94" textLength="199.0" lengthAdjust="spacingAndGlyphs"><tspan class="b">35S:</tspan><tspan class="bi">PpSBRL2</tspan><tspan class="b">+</tspan></text>
<text x="1223.5" y="1043.5" font-size="26.94" textLength="203.3" lengthAdjust="spacingAndGlyphs"><tspan class="b">35S:</tspan><tspan class="bi">PpBSBRL</tspan><tspan class="b">+</tspan></text>
<text x="1224.2" y="1083.7" font-size="26.94" textLength="229.6" lengthAdjust="spacingAndGlyphs" class="b">ProPpSBRL2-Luc</text>
<text x="1489.2" y="1043.5" font-size="26.94" textLength="203.5" lengthAdjust="spacingAndGlyphs"><tspan class="b">35S:</tspan><tspan class="bi">PpBSBRL</tspan><tspan class="b">+</tspan></text>
<text x="1489.4" y="1083.7" font-size="26.94" textLength="229.5" lengthAdjust="spacingAndGlyphs" class="b">ProPpSBRL2-Luc</text>
</g>
</svg>
</body></html>
